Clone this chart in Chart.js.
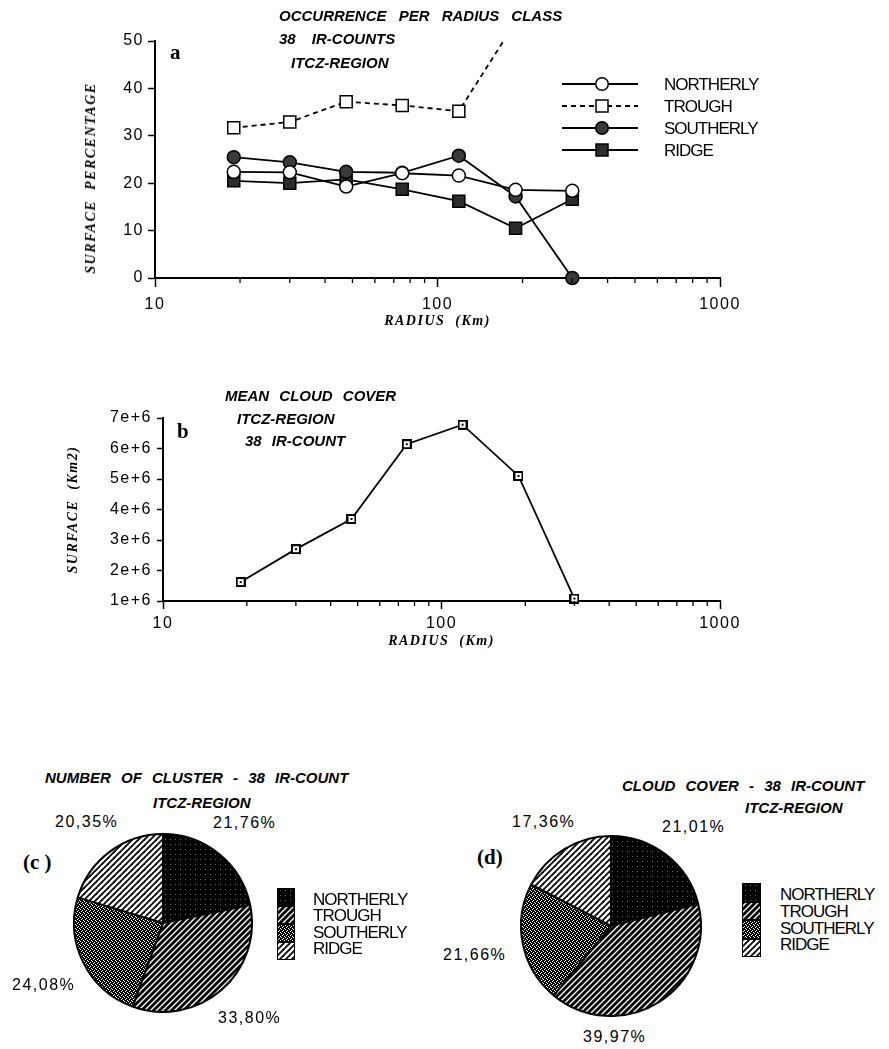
<!DOCTYPE html>
<html><head><meta charset="utf-8">
<script src="https://cdn.jsdelivr.net/npm/chart.js@4.4.1/dist/chart.umd.min.js"></script>
<style>
html,body{margin:0;padding:0;background:#fff;}
body{width:889px;height:1049px;position:relative;overflow:hidden;font-family:"Liberation Sans",Arial,sans-serif;color:#000;}
canvas{position:absolute;}
.t{position:absolute;white-space:pre;line-height:1;}
.hd{font-weight:bold;font-style:italic;font-size:15px;}
.lg{font-size:17px;letter-spacing:-1px;}
.pc{font-size:16px;letter-spacing:1.5px;}
.tag{font-family:"Liberation Serif",serif;font-weight:bold;font-size:21px;}
.ax{font-family:"Liberation Serif",serif;font-weight:bold;font-style:italic;font-size:14px;letter-spacing:1.5px;}
</style></head><body>
<canvas id="ca" width="760" height="335" style="left:0;top:0"></canvas>
<canvas id="cb" width="760" height="295" style="left:0;top:360px"></canvas>
<canvas id="cc" width="180" height="180" style="left:73px;top:833px"></canvas>
<canvas id="cd" width="182" height="182" style="left:520px;top:835px"></canvas>

<div class="t hd" style="left:279px;top:8px;word-spacing:8px">OCCURRENCE PER RADIUS CLASS</div>
<div class="t hd" style="left:279px;top:31px;word-spacing:12px">38 IR-COUNTS</div>
<div class="t hd" style="left:291px;top:55px">ITCZ-REGION</div>
<div class="t tag" style="left:170px;top:42px">a</div>
<div class="t ax" style="left:91px;top:178px;transform:translate(-50%,-50%) rotate(-90deg)">SURFACE  PERCENTAGE</div>

<div class="t hd" style="left:225px;top:388px;word-spacing:6px">MEAN CLOUD COVER</div>
<div class="t hd" style="left:237px;top:411px">ITCZ-REGION</div>
<div class="t hd" style="left:245px;top:433px;word-spacing:6px">38 IR-COUNT</div>
<div class="t tag" style="left:177px;top:421px">b</div>

<div class="t hd" style="left:45px;top:770px;word-spacing:6px">NUMBER OF CLUSTER - 38 IR-COUNT</div>
<div class="t hd" style="left:153px;top:795px">ITCZ-REGION</div>
<div class="t tag" style="left:23px;top:852px">(c )</div>

<div class="t hd" style="left:622px;top:778px;word-spacing:6px">CLOUD COVER - 38 IR-COUNT</div>
<div class="t hd" style="left:745px;top:800px">ITCZ-REGION</div>
<div class="t tag" style="left:477px;top:847px">(d)</div>

<div id="overlay"></div>
<script>
// ---------------- data ----------------
const radius = [19, 30, 47.5, 75, 119, 189, 300];
const northerly = [22.4, 22.3, 19.3, 22.1, 21.6, 18.6, 18.4];
const trough = [31.7, 32.9, 37.2, 36.4, 35.2, 54.0, 64.5];
const southerly = [25.5, 24.4, 22.4, 22.2, 25.8, 17.2, 0];
const ridge = [20.5, 20.0, 20.8, 18.7, 16.2, 10.5, 16.6];
const meanCover = [1.62e6, 2.70e6, 3.69e6, 6.14e6, 6.78e6, 5.10e6, 1.08e6];
const classes = ['NORTHERLY', 'TROUGH', 'SOUTHERLY', 'RIDGE'];
const clusterShare = [21.76, 33.80, 24.08, 20.35];
const coverShare = [21.01, 39.97, 21.66, 17.36];
const xMajorTicks = [10, 100, 1000];
const xMinorTicks = [20, 30, 40, 50, 60, 70, 80, 90, 200, 300, 400, 500, 600, 700, 800, 900];
const yTicksA = [0, 10, 20, 30, 40, 50];
const yTicksB = [1e6, 2e6, 3e6, 4e6, 5e6, 6e6, 7e6];
const yLabelsB = ['1e+6', '2e+6', '3e+6', '4e+6', '5e+6', '6e+6', '7e+6'];

// ---------------- styling helpers ----------------
const TICK_FONT = {family: 'Liberation Sans', size: 16};
const TITLE_FONT = {family: 'Liberation Serif', size: 14, style: 'italic', weight: 'bold'};
const isMajor = v => xMajorTicks.includes(v);

function tile(kind) {
  const c = document.createElement('canvas');
  const g = c.getContext('2d');
  if (kind === 'north') {
    c.width = c.height = 5;
    g.fillStyle = '#000'; g.fillRect(0, 0, 5, 5);
    g.fillStyle = '#6a6a6a'; g.fillRect(2, 1, 1, 1);
  } else if (kind === 'south') {
    const rows = ['###.', '#.##', '.###', '##.#'];
    c.width = c.height = 4;
    g.fillStyle = '#fff'; g.fillRect(0, 0, 4, 4);
    g.fillStyle = '#000';
    rows.forEach((r, y) => [...r].forEach((ch, x) => { if (ch === '#') g.fillRect(x, y, 1, 1); }));
  } else {
    const s = 6;
    c.width = c.height = s;
    g.fillStyle = '#fff'; g.fillRect(0, 0, s, s);
    g.strokeStyle = '#000';
    g.lineWidth = kind === 'trough' ? 2.9 : 1.8;
    [-s, 0, s].forEach(o => { g.beginPath(); g.moveTo(o - 1, s + 1); g.lineTo(o + s + 1, -1); g.stroke(); });
  }
  return c;
}
const tiles = [tile('north'), tile('trough'), tile('south'), tile('ridge')];

const spacing = {
  id: 'spacing',
  beforeUpdate(c) { c.ctx.letterSpacing = '1.5px'; },
  beforeDraw(c) { c.ctx.letterSpacing = '1.5px'; }
};
const minorTicks = {
  id: 'minorTicks',
  afterDraw(chart) {
    const s = chart.scales.x, ctx = chart.ctx;
    ctx.save(); ctx.strokeStyle = '#000'; ctx.lineWidth = 1.3;
    s.ticks.forEach(t => {
      if (!isMajor(t.value)) {
        const x = s.getPixelForValue(t.value);
        ctx.beginPath(); ctx.moveTo(x, s.top); ctx.lineTo(x, s.top + 5); ctx.stroke();
      }
    });
    ctx.restore();
  }
};

function xScale(h, tl, pad, titlePad) {
  return {
    type: 'logarithmic', min: 10, max: 1000, position: 'bottom',
    afterBuildTicks: s => { s.ticks = [...xMajorTicks, ...xMinorTicks].sort((a, b) => a - b).map(v => ({value: v, major: isMajor(v)})); },
    afterFit: s => { s.height = h; },
    border: {display: true, color: '#000', width: 2},
    grid: {drawOnChartArea: false, drawTicks: true, tickLength: tl, tickWidth: 1.5,
      tickColor: c => (c.tick && isMajor(c.tick.value)) ? '#000' : 'rgba(0,0,0,0)'},
    ticks: {autoSkip: false, maxRotation: 0, color: '#000', font: TICK_FONT, padding: pad,
      callback: v => isMajor(v) ? String(v) : ''},
    title: {display: true, text: 'RADIUS  (Km)', color: '#000', font: TITLE_FONT, padding: {top: 0, bottom: titlePad}}
  };
}

const base = {
  responsive: false, animation: false, events: [],
  plugins: {legend: {display: false}, tooltip: {enabled: false}}
};

// ---------------- chart a ----------------
const pts = arr => radius.map((r, i) => ({x: r, y: arr[i]}));
new Chart(document.getElementById('ca'), {
  type: 'line',
  data: {
    datasets: [
      {label: classes[0], data: pts(northerly), borderColor: '#000', borderWidth: 1.8, pointStyle: 'circle', pointRadius: 6.5,
        pointBackgroundColor: '#fff', pointBorderColor: '#000', pointBorderWidth: 1.5, clip: false},
      {label: classes[1], data: pts(trough), borderColor: '#000', borderWidth: 1.8, borderDash: [5, 4], pointStyle: 'rect', pointRadius: 8.5,
        pointBackgroundColor: '#fff', pointBorderColor: '#000', pointBorderWidth: 1.5, clip: {left: 20, right: 20, top: 0, bottom: 20}},
      {label: classes[2], data: pts(southerly), borderColor: '#000', borderWidth: 1.8, pointStyle: 'circle', pointRadius: 6.5,
        pointBackgroundColor: '#3a3a3a', pointBorderColor: '#000', pointBorderWidth: 1.5, clip: false},
      {label: classes[3], data: pts(ridge), borderColor: '#000', borderWidth: 1.8, pointStyle: 'rect', pointRadius: 8.5,
        pointBackgroundColor: '#2c2c2c', pointBorderColor: '#000', pointBorderWidth: 1.5, clip: false}
    ]
  },
  options: Object.assign({}, base, {
    layout: {padding: {left: 75, right: 40, top: 41, bottom: 0}},
    scales: {
      x: xScale(57, 9, 8, 5),
      y: {
        min: 0, max: 50,
        afterBuildTicks: s => { s.ticks = yTicksA.map(v => ({value: v})); },
        afterFit: s => { s.width = 80; },
        border: {color: '#000', width: 2},
        grid: {drawOnChartArea: false, tickLength: 7, tickColor: '#000', tickWidth: 1.5},
        ticks: {color: '#000', font: TICK_FONT, padding: 4}
      }
    }
  }),
  plugins: [spacing, minorTicks]
});

// ---------------- chart b ----------------
const sq = document.createElement('canvas');
sq.width = sq.height = 10;
(() => { const g = sq.getContext('2d'); g.fillStyle = '#fff'; g.fillRect(1, 1, 8, 8);
  g.strokeStyle = '#000'; g.lineWidth = 2; g.strokeRect(1, 1, 8, 8); g.fillStyle = '#000'; g.fillRect(4, 4, 2, 2); })();

new Chart(document.getElementById('cb'), {
  type: 'line',
  data: {datasets: [{label: 'MEAN CLOUD COVER', data: radius.map((r, i) => ({x: r, y: meanCover[i]})),
    borderColor: '#000', borderWidth: 1.8, pointStyle: sq, pointRadius: 5, clip: false}]},
  options: Object.assign({}, base, {
    layout: {padding: {left: 55, right: 40, top: 58, bottom: 0}},
    scales: {
      x: xScale(54, 8, 5, 5),
      y: {
        min: 1e6, max: 7e6,
        afterBuildTicks: s => { s.ticks = yTicksB.map(v => ({value: v})); },
        afterFit: s => { s.width = 108; },
        border: {color: '#000', width: 2},
        grid: {drawOnChartArea: false, tickLength: 6, tickColor: '#000', tickWidth: 1.5},
        ticks: {color: '#000', font: TICK_FONT, padding: 5, callback: (v, i) => yLabelsB[i]},
        title: {display: true, text: 'SURFACE  (Km2)', color: '#000', font: TITLE_FONT, padding: {top: 10, bottom: 0}}
      }
    }
  }),
  plugins: [spacing, minorTicks]
});

// ---------------- pies ----------------
function pie(id, values) {
  const cv = document.getElementById(id);
  const ctx = cv.getContext('2d');
  const pats = tiles.map(t => ctx.createPattern(t, 'repeat'));
  new Chart(cv, {
    type: 'pie',
    data: {labels: classes, datasets: [{data: values, backgroundColor: pats, borderColor: '#000', borderWidth: 2}]},
    options: Object.assign({}, base, {layout: {padding: 0}})
  });
}
pie('cc', clusterShare);
pie('cd', coverShare);

// ---------------- text overlays built from data ----------------
const overlay = document.getElementById('overlay');
function put(cls, x, y, txt, extra) {
  const d = document.createElement('div');
  d.className = 't ' + cls; d.style.left = x + 'px'; d.style.top = y + 'px';
  d.textContent = txt;
  if (extra) Object.assign(d.style, extra);
  overlay.appendChild(d);
  return d;
}
const fmt = v => v.toFixed(2).replace('.', ',') + '%';
// percentage label positions (left, top) for pies c and d
const pieLabelPosC = [[213, 815], [218, 1010], [12, 977], [55, 814]];
const pieLabelPosD = [[662, 819], [583, 1029], [443, 947], [512, 814]];
clusterShare.forEach((v, i) => put('pc', pieLabelPosC[i][0], pieLabelPosC[i][1], fmt(v)));
coverShare.forEach((v, i) => put('pc', pieLabelPosD[i][0], pieLabelPosD[i][1], fmt(v)));

// pie legends
function pieLegend(bx, by, bw, bh, tx, ty, dy) {
  classes.forEach((c, i) => {
    const b = document.createElement('div');
    b.style.cssText = `position:absolute;left:${bx}px;top:${by + i * bh}px;width:${bw}px;height:${bh}px;box-sizing:border-box;border:1.5px solid #000;background-image:url(${tiles[i].toDataURL()});`;
    overlay.appendChild(b);
    put('lg', tx, ty + i * dy, c);
  });
}
pieLegend(277, 888, 18, 18, 313, 891, 16.4);
pieLegend(742, 883, 19, 18.5, 780, 886, 16.8);

// line legend (chart a)
const legendStyles = [
  {dash: '', marker: '<circle cx="40" cy="10" r="6.3" fill="#fff" stroke="#000" stroke-width="1.5"/>'},
  {dash: 'stroke-dasharray="5 4"', marker: '<rect x="34" y="4" width="12" height="12" fill="#fff" stroke="#000" stroke-width="1.5"/>'},
  {dash: '', marker: '<circle cx="40" cy="10" r="6.3" fill="#3a3a3a" stroke="#000" stroke-width="1.5"/>'},
  {dash: '', marker: '<rect x="34" y="4" width="12" height="12" fill="#2c2c2c" stroke="#000" stroke-width="1.5"/>'}
];
const legendRowsY = [84, 106, 128, 150];
classes.forEach((c, i) => {
  const s = document.createElement('div');
  s.style.cssText = `position:absolute;left:562px;top:${legendRowsY[i] - 10}px;width:80px;height:20px;`;
  s.innerHTML = `<svg width="80" height="20"><line x1="0" y1="10" x2="76" y2="10" stroke="#000" stroke-width="1.8" ${legendStyles[i].dash}/>${legendStyles[i].marker}</svg>`;
  overlay.appendChild(s);
  put('lg', 664, legendRowsY[i] - 8, c);
});
</script>
</body></html>
